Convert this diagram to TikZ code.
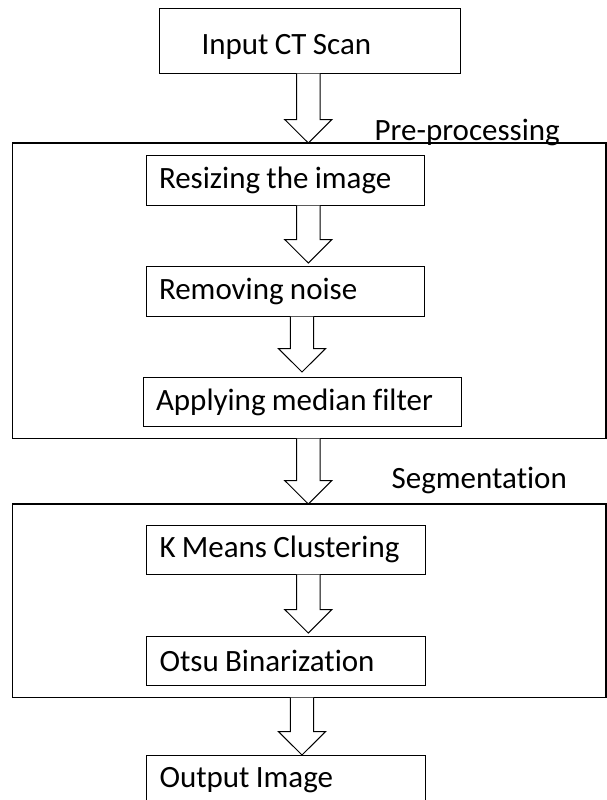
\documentclass[tikz,border=0pt]{standalone}
\usepackage{fontspec}
\setmainfont{Carlito}[Ligatures=NoCommon, WordSpace=0.9]
\usetikzlibrary{calc}

\newcommand{\stagefont}{\fontsize{31pt}{37pt}\selectfont}
% left-set text inside a box of fixed width
\newcommand{\steptext}[2][252.5pt]{\makebox[#1][l]{#2}}

% hollow block arrow between two nodes, along a named column
\newcommand{\hollowarrow}[4][0pt]{%
  \draw[hollow] let \p1=(#2.south -| #4), \p2=(#3.north -| #4) in
    (\x1-11.7pt,\y1) -- (\x1-11.7pt,\y2+#1+23.5pt) -- (\x1-23.6pt,\y2+#1+23.5pt)
    -- (\x1,\y2+#1) -- (\x1+23.6pt,\y2+#1+23.5pt) -- (\x1+11.7pt,\y2+#1+23.5pt)
    -- (\x1+11.7pt,\y1);}

\tikzset{
  stagebox/.style={draw, line width=1pt, outer sep=0pt, anchor=north west,
    inner xsep=13pt, inner ysep=0pt, minimum height=50pt, font=\stagefont},
  groupbox/.style={draw, line width=1.5pt, outer sep=0pt, anchor=north west,
    inner sep=0pt, minimum width=593.3pt},
  grouplabel/.style={anchor=base west, inner sep=0pt, font=\stagefont},
  hollow/.style={draw, line width=1pt, fill=white, line join=miter},
}

\begin{document}
\begin{tikzpicture}[x=1pt,y=-1pt]
    \useasboundingbox (0,0) rectangle (607,800);

    % Columns for the arrows
    \coordinate (colA) at (308.3,0);
    \coordinate (colB) at (302,0);

    % Group frames
    \node[groupbox, minimum height=295.5pt] (pre) at (12.7,143) {};
    \node[groupbox, minimum height=193.5pt] (seg) at (12.7,504) {};

    % Group labels
    \node[grouplabel] (prelbl) at (374.5,140) {Pre-processing};
    \node[grouplabel] (seglbl) at (391.5,488) {Segmentation};

    % Input
    \node[stagebox, inner xsep=42pt, minimum height=65pt] (inp) at (159.5,8.5) {\raisebox{-6pt}[\height][\depth]{\steptext[217pt]{Input CT Scan}}};

    % Pre-processing steps
    \node[stagebox] (resize) at (146,155.5) {\steptext{Resizing the image}};
    \node[stagebox, minimum height=50.5pt] (noise) at (146,266) {\steptext{Removing noise}};
    \node[stagebox, minimum height=49pt] (median) at (143,377.5) {\steptext[292pt]{Applying median filter}};

    % Segmentation steps
    \node[stagebox, minimum height=49.5pt] (kmeans) at (146.5,525) {\steptext{K Means Clustering}};
    \node[stagebox, minimum height=49pt] (otsu) at (146.5,636) {\steptext{Otsu Binarization}};

    % Output
    \node[stagebox] (output) at (146.5,755) {\steptext{Output Image}};

    % Arrows
    \hollowarrow{inp}{pre}{colA}
    \hollowarrow[3pt]{resize}{noise}{colA}
    \hollowarrow[5.5pt]{noise}{median}{colB}
    \hollowarrow{pre}{seg}{colA}
    \hollowarrow[3pt]{kmeans}{otsu}{colA}
    \hollowarrow{seg}{output}{colB}

\end{tikzpicture}
\end{document}
